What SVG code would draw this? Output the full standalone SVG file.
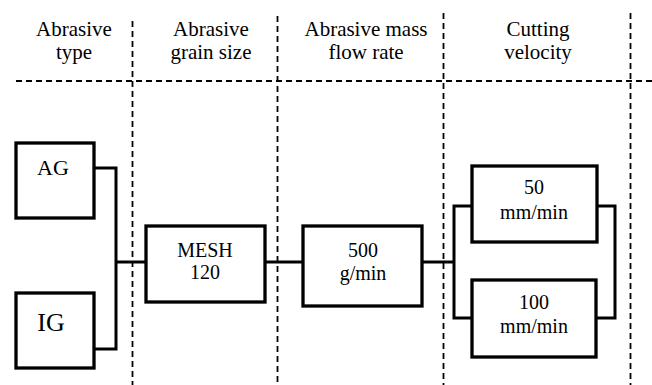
<svg xmlns="http://www.w3.org/2000/svg" width="652" height="385" viewBox="0 0 652 385">
<style>
text{font-family:'Liberation Serif','DejaVu Serif',serif;font-size:20px;fill:#000;text-anchor:middle}
.h{font-size:21px}
.box{fill:#fff;stroke:#000;stroke-width:3.3}
.c{fill:none;stroke:#000;stroke-width:3}
.d{stroke:#000;stroke-width:1.8;stroke-dasharray:6 4;fill:none}
</style>
<rect width="652" height="385" fill="#fff"/>
<g id="grid">
<line class="d" x1="16" y1="81" x2="652" y2="81"/>
<line class="d" x1="132.5" y1="21" x2="132.5" y2="385"/>
<line class="d" x1="277.5" y1="16" x2="277.5" y2="385"/>
<line class="d" x1="443.5" y1="13" x2="443.5" y2="385"/>
<line class="d" x1="630.5" y1="13" x2="630.5" y2="385"/>
</g>
<g id="headers">
<text class="h" x="74" y="36">Abrasive</text><text class="h" x="74" y="59">type</text>
<text class="h" x="211" y="36">Abrasive</text><text class="h" x="211" y="59">grain size</text>
<text class="h" x="366" y="36">Abrasive mass</text><text class="h" x="366" y="59">flow rate</text>
<text class="h" x="538" y="36">Cutting</text><text class="h" x="538" y="59">velocity</text>
</g>
<g id="connectors">
<polyline class="c" points="94,168 116,168 116,349 94,349"/>
<line class="c" x1="116" y1="262" x2="146" y2="262"/>
<line class="c" x1="265" y1="262" x2="303" y2="262"/>
<polyline class="c" points="472,206 454,206 454,318 472,318"/>
<line class="c" x1="422" y1="262" x2="454" y2="262"/>
<polyline class="c" points="597,206 615,206 615,318 597,318"/>
</g>
<g id="AG"><rect class="box" x="16" y="143" width="78" height="75"/><text x="53" y="175" style="font-size:22px">AG</text></g>
<g id="IG"><rect class="box" x="16" y="293" width="78" height="75"/><text x="51" y="331" style="font-size:26px">IG</text></g>
<g id="MESH"><rect class="box" x="146" y="226" width="119" height="76"/><text x="205" y="257">MESH</text><text x="205" y="279">120</text></g>
<g id="mass"><rect class="box" x="303" y="226" width="119" height="80"/><text x="363" y="257">500</text><text x="363" y="280">g/min</text></g>
<g id="v50"><rect class="box" x="472" y="166" width="125" height="76"/><text x="534" y="194">50</text><text x="534" y="219">mm/min</text></g>
<g id="v100"><rect class="box" x="472" y="280" width="124" height="77"/><text x="534" y="309">100</text><text x="534" y="333">mm/min</text></g>
</svg>
